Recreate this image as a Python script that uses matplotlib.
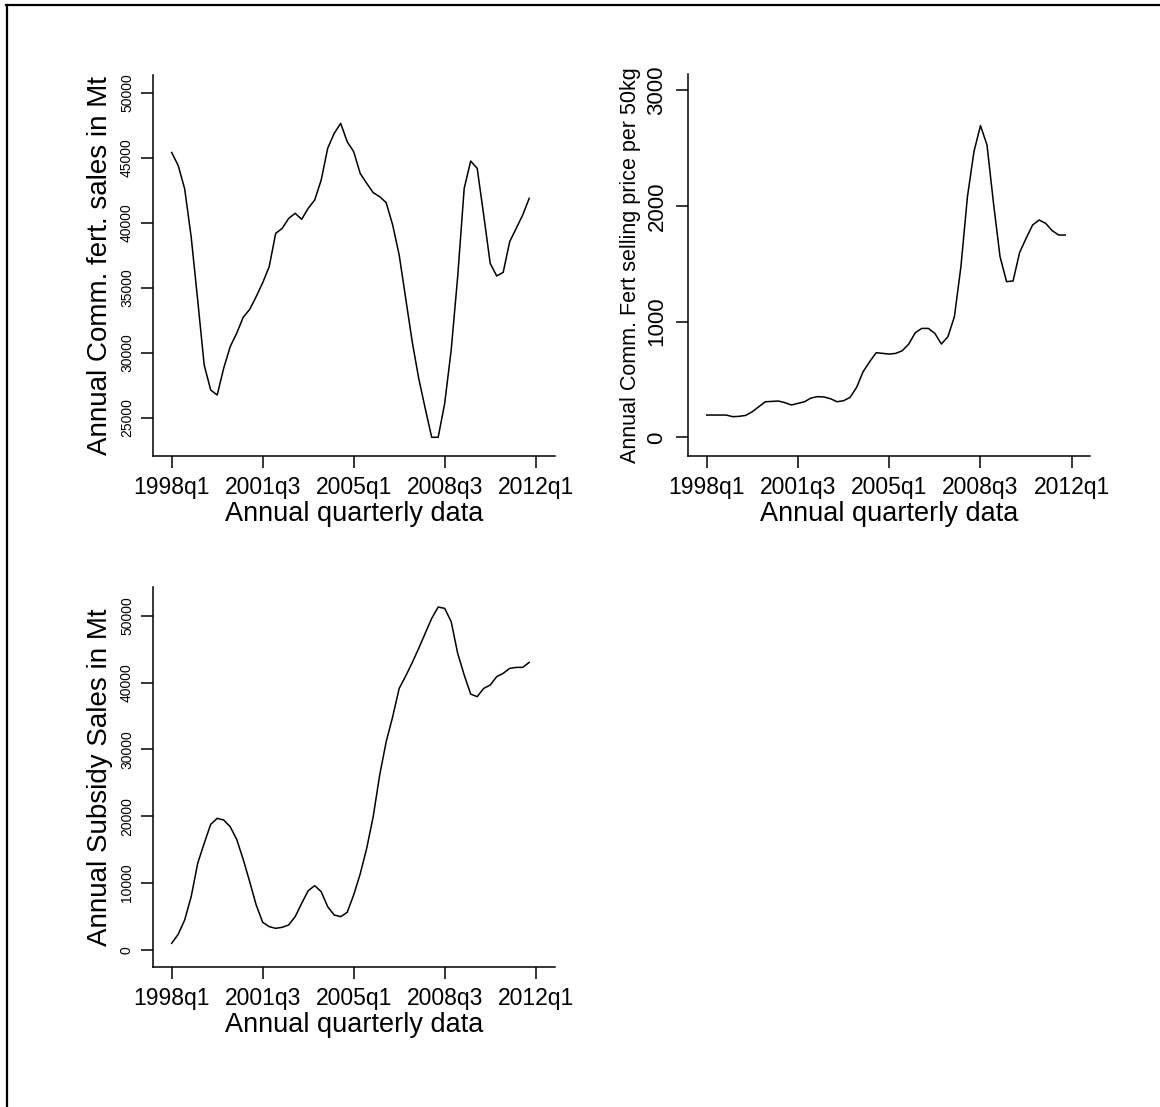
import matplotlib
matplotlib.use("Agg")
import matplotlib.pyplot as plt
from matplotlib.lines import Line2D

plt.rcParams['font.family'] = ['Liberation Sans', 'DejaVu Sans']

# quarterly index 0 = 1998q1 ... 55 = 2011q4
tick_pos = [0, 14, 28, 42, 56]
tick_labels = ["1998q1", "2001q3", "2005q1", "2008q3", "2012q1"]

comm_sales = [45400, 44400, 42600, 38900, 34050, 29050, 27130, 26740, 28800, 30460,
              31490, 32720, 33330, 34310, 35380, 36610, 39180, 39560, 40330, 40720,
              40260, 41100, 41740, 43280, 45720, 46870, 47640, 46230, 45460, 43790,
              43030, 42310, 42000, 41540, 39820, 37510, 34180, 30850, 28030, 25720,
              23490, 23490, 26100, 30200, 35850, 42640, 44740, 44180, 40590, 36870,
              35900, 36180, 38540, 39560, 40590, 41870]

fert_price = [193, 193, 193, 193, 179, 182, 190, 222, 265, 308,
              311, 314, 300, 280, 294, 308, 340, 352, 349, 334,
              308, 317, 346, 432, 568, 654, 732, 726, 720, 726,
              749, 807, 905, 942, 942, 899, 807, 870, 1043, 1476,
              2080, 2470, 2695, 2528, 2023, 1562, 1346, 1352, 1597, 1721,
              1836, 1879, 1850, 1787, 1749, 1749]

subsidy_sales = [1000, 2340, 4490, 7980, 12960, 15950, 18790, 19690, 19440, 18440,
                 16550, 13560, 10220, 6730, 4140, 3490, 3240, 3390, 3740, 4990,
                 6980, 8870, 9620, 8720, 6480, 5230, 4990, 5630, 8230, 11370,
                 15200, 19940, 26170, 31160, 34900, 39130, 40980, 42970, 45110, 47360,
                 49600, 51300, 51100, 49100, 44370, 41130, 38280, 37890, 39130, 39630,
                 40880, 41380, 42120, 42270, 42270, 43020]

quarters = list(range(len(comm_sales)))

W, H = 1160, 1107
fig = plt.figure(figsize=(W / 100, H / 100), dpi=100)
fig.patch.set_facecolor('white')


def px_axes(left, top, right, bottom):
    return fig.add_axes([left / W, 1 - bottom / H, (right - left) / W, (bottom - top) / H])


def style(ax, data, ylabel, yticks, ylim, ytick_size, ylabel_size, xlim, ypad, ylabelpad):
    ax.plot(quarters, data, color='black', lw=1.1)
    for s in ('top', 'right'):
        ax.spines[s].set_visible(False)
    for s in ('left', 'bottom'):
        ax.spines[s].set_linewidth(1.1)
    ax.set_xlim(*xlim)
    ax.set_ylim(*ylim)
    ax.set_xticks(tick_pos)
    ax.set_xticklabels(tick_labels, fontsize=16.5)
    ax.set_yticks(yticks)
    ax.set_yticklabels([str(v) for v in yticks], fontsize=ytick_size, rotation=90, va='center')
    ax.tick_params(axis='both', direction='out', length=8.5, width=1.1)
    ax.tick_params(axis='x', pad=6)
    ax.tick_params(axis='y', pad=ypad)
    ax.set_xlabel("Annual quarterly data", fontsize=19.5, labelpad=1)
    ax.set_ylabel(ylabel, fontsize=ylabel_size, labelpad=ylabelpad)


ax1 = px_axes(152.7, 75, 555, 456)
style(ax1, comm_sales, "Annual Comm. fert. sales in Mt", [25000, 30000, 35000, 40000, 45000, 50000],
      (22050, 51360), 10, 20, (-2.92, 58.97), 5, 5)

ax2 = px_axes(687.7, 74, 1090, 456)
style(ax2, fert_price, "Annual Comm. Fert selling price per 50kg", [0, 1000, 2000, 3000],
      (-161, 3141), 16, 15.5, (-2.91, 58.8), 6, 4)

ax3 = px_axes(152.7, 586.7, 555, 967.3)
style(ax3, subsidy_sales, "Annual Subsidy Sales in Mt", [0, 10000, 20000, 30000, 40000, 50000],
      (-2590, 54340), 10, 20, (-2.92, 58.97), 5, 5)

# outer frame (top and left edges)
fig.add_artist(Line2D([6 / W, 1], [1 - 5 / H, 1 - 5 / H], transform=fig.transFigure,
                      color='black', lw=1.6))
fig.add_artist(Line2D([7 / W, 7 / W], [0, 1 - 5 / H], transform=fig.transFigure,
                      color='black', lw=1.6))

fig.savefig("out.png", dpi=100, facecolor='white')
